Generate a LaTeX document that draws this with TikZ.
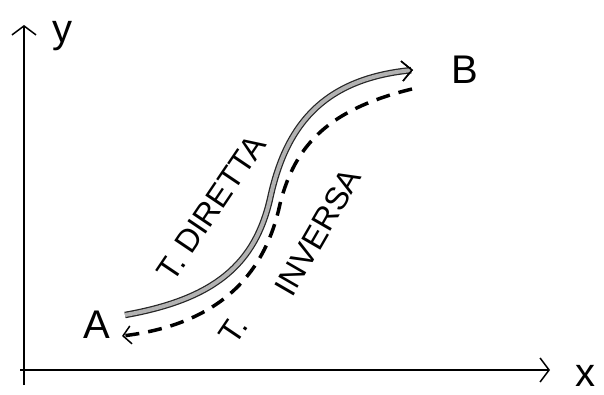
\documentclass[tikz,border=0pt]{standalone}
\usepackage{fontspec}
\setmainfont{Liberation Sans}
\usetikzlibrary{arrows.meta,positioning}

\begin{document}
\begin{tikzpicture}[x=1pt, y=1pt, thick]
    % Stili
    \tikzstyle{axis}=[line width=1.5pt, -{Straight Barb[length=9pt, width=24pt, line width=1.5pt]}]
    \tikzstyle{letter}=[font=\fontsize{40}{40}\selectfont, inner sep=0pt]
    \tikzstyle{tag}=[font=\fontsize{32}{32}\selectfont, inner sep=0pt]
    \tikzstyle{forward}=[line width=4pt, draw=gray!60, preaction={draw=black!85, line width=6.5pt},
        -{Straight Barb[length=10pt, width=20pt, line width=1.5pt, black]}]
    \tikzstyle{backward}=[line width=3.5pt, dash pattern=on 14pt off 9pt,
        -{Straight Barb[length=8pt, width=18pt, line width=1.5pt, black]}]

    \useasboundingbox (0,0) rectangle (604,394);

    % Assi
    \coordinate (yfoot) at (24,9);
    \coordinate (ytop) at (24,369);
    \coordinate (xfoot) at (20,24);
    \coordinate (xend) at (550,24);
    \draw [axis] (yfoot) -- (ytop);
    \draw [axis] (xfoot) -- (xend);
    \node (ylab) [letter] at (62,358) {y};
    \node (xlab) [letter] at (585,18) {x};

    % Punti
    \node (A) [letter] at (97,69) {A};
    \node (B) [letter] at (465,324) {B};
    \coordinate (fwdstart) at (125,79);
    \coordinate (fwdmid) at (270,195);
    \coordinate (fwdend) at (413,324);
    \coordinate (bwdstart) at (412,305);
    \coordinate (bwdmid) at (280,190);
    \coordinate (bwdend) at (122,58);

    % Trasformazioni
    \draw [forward] (fwdstart) .. controls (215,95) and (255,130) .. (fwdmid)
        .. controls (285,265) and (320,315) .. (fwdend);
    \draw [backward] (bwdstart) .. controls (330,285) and (295,250) .. (bwdmid)
        .. controls (265,120) and (220,70) .. (bwdend);

    % Etichette
    \node (direct) [tag, rotate=56] at (211,186) {T. DIRETTA};
    \node (invT) [tag, rotate=56] at (233,64) {T.};
    \node (inverse) [tag, rotate=60] at (318,162) {INVERSA};

\end{tikzpicture}
\end{document}
